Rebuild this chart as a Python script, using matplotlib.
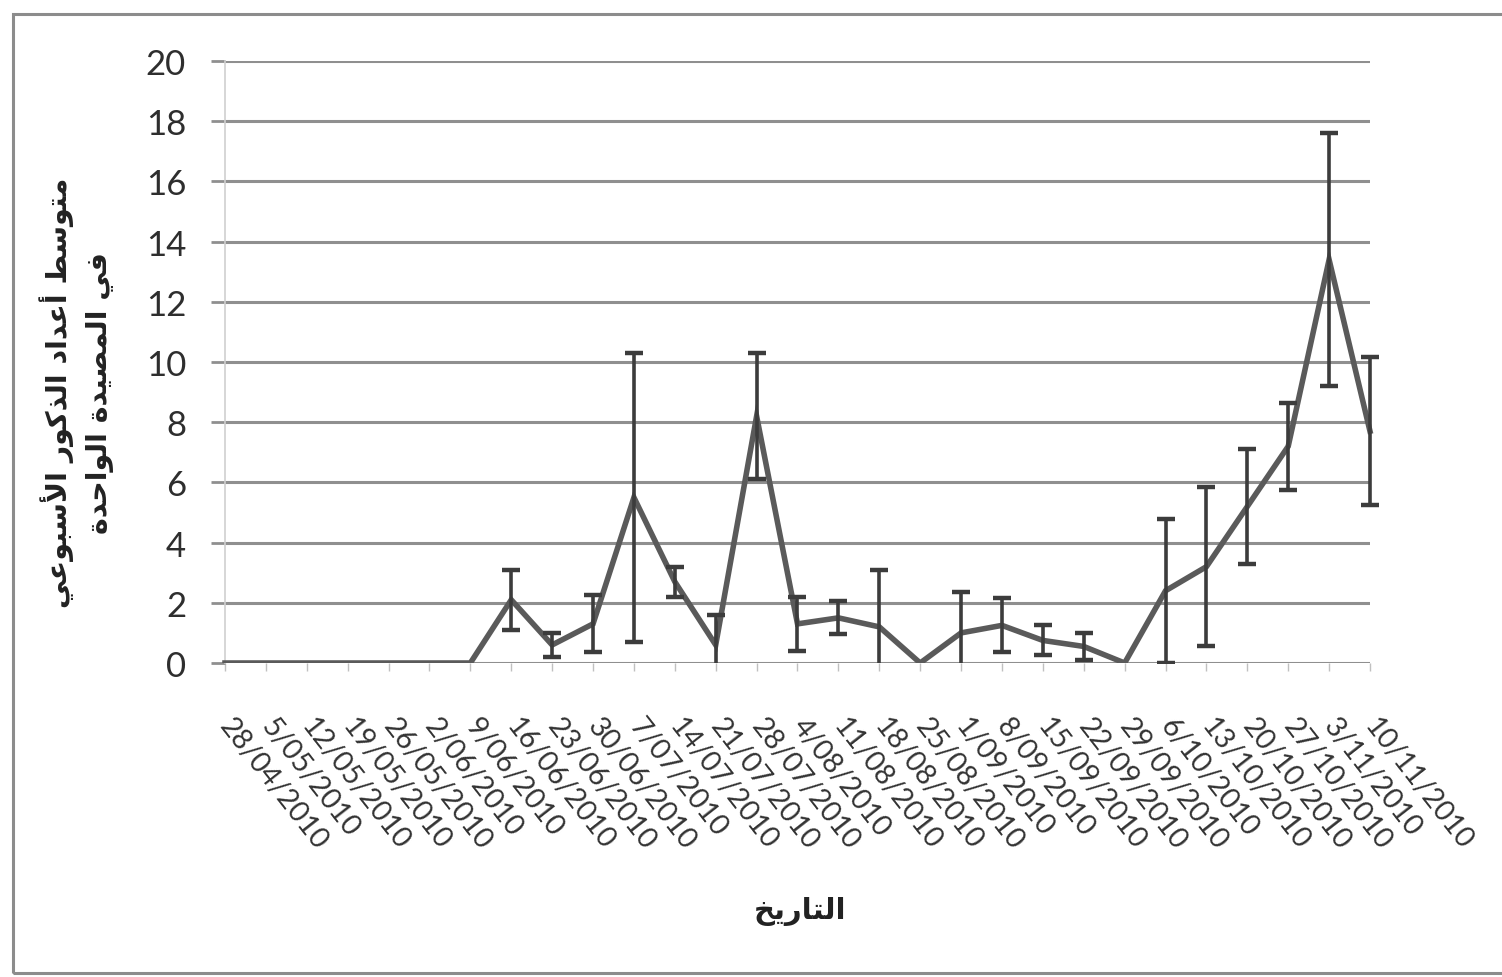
import numpy as np
import matplotlib
matplotlib.use("Agg")
import matplotlib.pyplot as plt
from matplotlib.patches import Rectangle

# Weekly sampling dates
dates = ["28/04/2010", "5/05/2010", "12/05/2010", "19/05/2010", "26/05/2010",
         "2/06/2010", "9/06/2010", "16/06/2010", "23/06/2010", "30/06/2010",
         "7/07/2010", "14/07/2010", "21/07/2010", "28/07/2010", "4/08/2010",
         "11/08/2010", "18/08/2010", "25/08/2010", "1/09/2010", "8/09/2010",
         "15/09/2010", "22/09/2010", "29/09/2010", "6/10/2010", "13/10/2010",
         "20/10/2010", "27/10/2010", "3/11/2010", "10/11/2010"]

# Mean weekly male catch per trap and its error
means = [0, 0, 0, 0, 0, 0, 0, 2.1, 0.6, 1.3, 5.5, 2.7, 0.6, 8.2, 1.3,
         1.5, 1.2, 0, 1.0, 1.25, 0.75, 0.55, 0, 2.4, 3.2, 5.2, 7.2, 13.4, 7.7]
errors = [0, 0, 0, 0, 0, 0, 0, 1.0, 0.4, 0.95, 4.8, 0.5, 1.0, 2.1, 0.9,
          0.55, 1.9, 0, 1.35, 0.9, 0.5, 0.45, 0, 2.4, 2.65, 1.9, 1.45, 4.2, 2.45]

y_ticks = [0, 2, 4, 6, 8, 10, 12, 14, 16, 18, 20]

y_label_lines = ["متوسط أعداد الذكور الأسبوعي", "في المصيدة الواحدة"]
x_label = "التاريخ"


# --- minimal Arabic shaping (presentation forms + visual order) ---
FORMS = {
    'ا': ('\uFE8D', '\uFE8E', None, None),
    'أ': ('\uFE83', '\uFE84', None, None),
    'ب': ('\uFE8F', '\uFE90', '\uFE91', '\uFE92'),
    'ة': ('\uFE93', '\uFE94', None, None),
    'ت': ('\uFE95', '\uFE96', '\uFE97', '\uFE98'),
    'ح': ('\uFEA1', '\uFEA2', '\uFEA3', '\uFEA4'),
    'خ': ('\uFEA5', '\uFEA6', '\uFEA7', '\uFEA8'),
    'د': ('\uFEA9', '\uFEAA', None, None),
    'ذ': ('\uFEAB', '\uFEAC', None, None),
    'ر': ('\uFEAD', '\uFEAE', None, None),
    'س': ('\uFEB1', '\uFEB2', '\uFEB3', '\uFEB4'),
    'ص': ('\uFEB9', '\uFEBA', '\uFEBB', '\uFEBC'),
    'ط': ('\uFEC1', '\uFEC2', '\uFEC3', '\uFEC4'),
    'ع': ('\uFEC9', '\uFECA', '\uFECB', '\uFECC'),
    'ف': ('\uFED1', '\uFED2', '\uFED3', '\uFED4'),
    'ك': ('\uFED9', '\uFEDA', '\uFEDB', '\uFEDC'),
    'ل': ('\uFEDD', '\uFEDE', '\uFEDF', '\uFEE0'),
    'م': ('\uFEE1', '\uFEE2', '\uFEE3', '\uFEE4'),
    'و': ('\uFEED', '\uFEEE', None, None),
    'ي': ('\uFEF1', '\uFEF2', '\uFEF3', '\uFEF4'),
}
LAM_ALEF = {'أ': ('\uFEF7', '\uFEF8'), 'ا': ('\uFEFB', '\uFEFC')}


def shape_arabic(text):
    tokens = []
    i = 0
    while i < len(text):
        ch = text[i]
        if ch == 'ل' and i + 1 < len(text) and text[i + 1] in LAM_ALEF:
            tokens.append(('LA', text[i + 1]))
            i += 2
        else:
            tokens.append(('CH', ch))
            i += 1

    def dual(tok):
        return tok[0] == 'CH' and tok[1] in FORMS and FORMS[tok[1]][2] is not None

    def letter(tok):
        return tok[0] == 'LA' or tok[1] in FORMS

    out = []
    for k, tok in enumerate(tokens):
        if not letter(tok):
            out.append(tok[1])
            continue
        prev_join = k > 0 and letter(tokens[k - 1]) and dual(tokens[k - 1])
        next_join = dual(tok) and k + 1 < len(tokens) and letter(tokens[k + 1])
        if tok[0] == 'LA':
            iso, fin = LAM_ALEF[tok[1]]
            out.append(fin if prev_join else iso)
            continue
        iso, fin, ini, med = FORMS[tok[1]]
        if prev_join and next_join:
            out.append(med)
        elif prev_join:
            out.append(fin)
        elif next_join:
            out.append(ini)
        else:
            out.append(iso)
    return ''.join(reversed(out))


W, H = 1502, 978
fig = plt.figure(figsize=(W / 100, H / 100), dpi=100)
fig.patch.set_facecolor('white')

# chart frame
fig.add_artist(Rectangle((13 / W, 1 - 974 / H), 1.2, (974 - 15) / H,
                         transform=fig.transFigure, fill=False,
                         edgecolor='#8c8c8c', linewidth=2.2))

ax = fig.add_axes([225 / W, 1 - 664 / H, (1370 - 225) / W, (664 - 62) / H])
x = np.arange(len(dates))
m = np.array(means)
e = np.array(errors)

# clip marks at the zero line but let the last point's caps overhang on the right
clip_box = Rectangle((-1, 0), len(dates) + 1, 25, transform=ax.transData,
                     visible=False)
ax.add_patch(clip_box)

line, = ax.plot(x, m, color='#5a5a5a', linewidth=4.0, solid_joinstyle='miter',
                zorder=3)
line.set_clip_path(clip_box)
mask = e > 0
eb = ax.errorbar(x[mask], m[mask], yerr=e[mask], fmt='none', ecolor='#3c3c3c',
                 elinewidth=2.6, capsize=6.5, capthick=3.2, zorder=4)
for art in list(eb.lines[1]) + list(eb.lines[2]):
    art.set_clip_path(clip_box)

ax.set_xlim(0, len(dates) - 1)
ax.set_ylim(0, 20)
ax.set_yticks(y_ticks)
ax.set_yticklabels([str(v) for v in y_ticks], fontsize=25, family='Lato',
                   color='#2e2e2e')
ax.set_xticks(x)
ax.set_xticklabels(dates, rotation=-52, ha='left', va='center',
                   rotation_mode='anchor', fontsize=20.5, family='Lato',
                   color='#333333')

ax.grid(axis='y', color='#8f8f8f', linewidth=2.2)
ax.set_axisbelow(True)
for s in ('top', 'right', 'bottom'):
    ax.spines[s].set_visible(False)
ax.spines['left'].set_color('#cfcfcf')
ax.spines['left'].set_linewidth(1.2)
ax.tick_params(axis='y', length=10, width=2.0, color='#8f8f8f', pad=18)
ax.tick_params(axis='x', length=6, width=1.0, color='#c0c0c0', pad=36)

ax.set_ylabel(shape_arabic(y_label_lines[0]) + "\n" + shape_arabic(y_label_lines[1]),
              fontsize=20.5, fontweight='bold', family='DejaVu Sans',
              color='#222222', linespacing=1.5)
ax.yaxis.set_label_coords((114 - 225) / 1145, (664 - 393) / 602)
fig.text(800 / W, 1 - 912 / H, shape_arabic(x_label), fontsize=21,
         fontweight='bold', family='DejaVu Sans', color='#222222',
         ha='center', va='center')

fig.savefig('out.png', dpi=100, facecolor='white')
